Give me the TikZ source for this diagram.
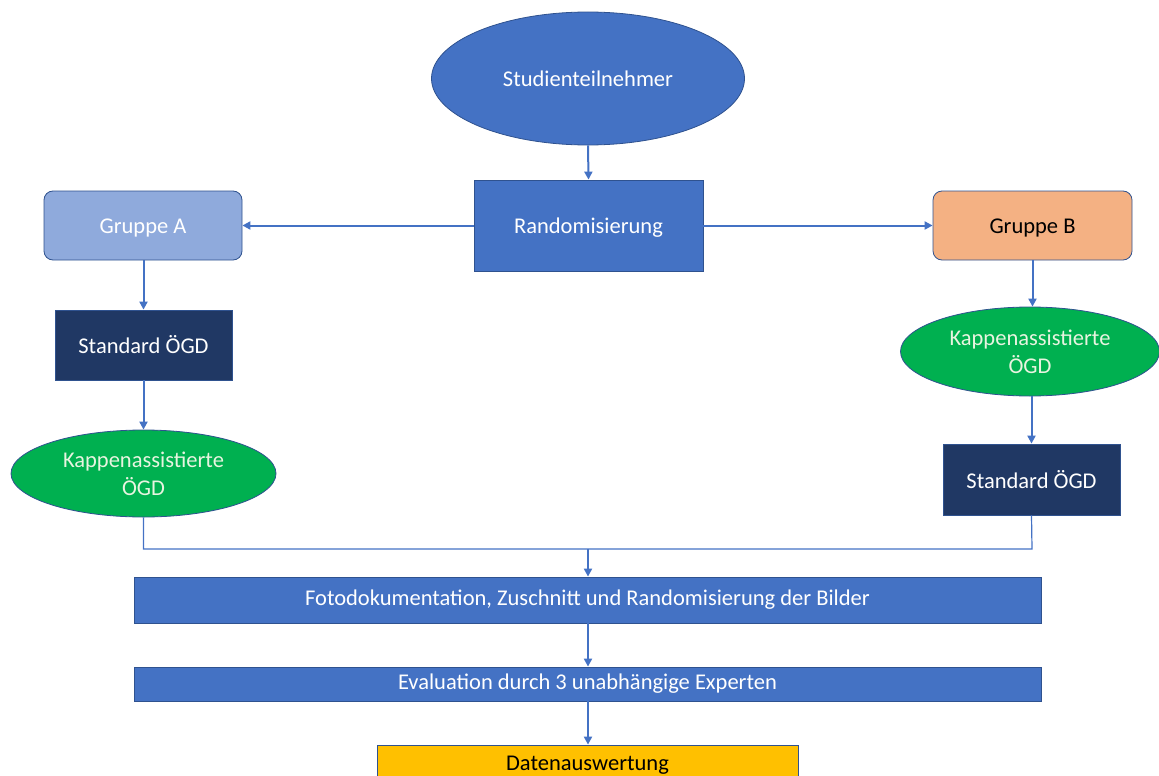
\documentclass[tikz,border=0pt]{standalone}
\usepackage{fontspec}
\setmainfont{Carlito}
\usetikzlibrary{shapes.geometric,arrows.meta}
\definecolor{mblue}{HTML}{4472C4}
\definecolor{bord}{HTML}{2F528F}
\definecolor{lblue}{HTML}{8FAADC}
\definecolor{peach}{HTML}{F4B183}
\definecolor{navy}{HTML}{203864}
\definecolor{grn}{HTML}{00B050}
\definecolor{gold}{HTML}{FFC000}
\definecolor{lgtxt}{HTML}{E8F4E0}
\tikzset{
  base/.style={inner sep=0pt, draw=bord, line width=0.8pt, font=\fontsize{22.5}{28}\selectfont, align=center},
  boxb/.style={base, rectangle, fill=mblue, text=white},
  ell/.style={base, ellipse},
  grp/.style={base, rectangle, rounded corners=9pt},
  arr/.style={draw=mblue, line width=2pt, -{Triangle[length=8pt,width=8pt]}},
  thin/.style={draw=mblue, line width=1.2pt}
}
\begin{document}
\begin{tikzpicture}[x=1pt,y=-1pt]
\useasboundingbox (0,0) rectangle (1159,776);
\clip (0,0) rectangle (1159,776);
\node[ell, fill=mblue, text=white, minimum width=313pt, minimum height=133pt] (stud) at (588,78.5) {Studienteilnehmer};
\node[boxb, minimum width=229pt, minimum height=91pt, text height=19pt] (rand) at (588.5,225.5) {Randomisierung};
\node[grp, fill=lblue, text=white, minimum width=198pt, minimum height=69pt, text height=19pt] (ga) at (143,225.5) {Gruppe A};
\node[grp, fill=peach, text=black, minimum width=199pt, minimum height=69pt, text height=19pt] (gb) at (1032.5,225.5) {Gruppe B};
\node[base, rectangle, fill=navy, text=white, minimum width=177pt, minimum height=70pt] (sa) at (143.5,345) {Standard ÖGD};
\node[ell, fill=grn, text=lgtxt, minimum width=265pt, minimum height=87pt] (ka) at (143.5,473.5) {Kappenassistierte\\ÖGD};
\node[ell, fill=grn, text=lgtxt, minimum width=259pt, minimum height=89pt] (kb) at (1030,351.5) {Kappenassistierte\\ÖGD};
\node[base, rectangle, fill=navy, text=white, minimum width=177pt, minimum height=71pt] (sb) at (1031.5,479.5) {Standard ÖGD};
\node[boxb, minimum width=907pt, minimum height=46pt] (foto) at (587.5,600) {Fotodokumentation, Zuschnitt und Randomisierung der Bilder};
\node[boxb, minimum width=907pt, minimum height=34pt] (eval) at (587.5,684) {Evaluation durch 3 unabhängige Experten};
\node[base, rectangle, fill=gold, text=black, minimum width=421pt, minimum height=46pt] (daten) at (587.5,768) {};
\node[font=\fontsize{22.5}{28}\selectfont, text=black, anchor=base] (dtxt) at (587.5,770) {Datenauswertung};
\coordinate (jl) at (143.5,549);
\coordinate (jr) at (1032,549);
\coordinate (jm) at (588,549);
\draw[arr] (stud.south) -- (rand.north);
\draw[arr] (rand.west) -- (ga.east);
\draw[arr] (rand.east) -- (gb.west);
\draw[arr] (ga.south -| sa.north) -- (sa.north);
\draw[arr] (sa.south) -- (ka.north);
\draw[arr] (gb.south) -- (gb.south |- kb.north);
\draw[arr] (kb.south -| sb.north) -- (sb.north);
\draw[thin] (ka.south) -- (jl) -- (jr) -- (sb.south);
\draw[arr] (jm) -- (foto.north -| jm);
\draw[arr] (foto.south -| jm) -- (eval.north -| jm);
\draw[arr] (eval.south -| jm) -- (daten.north -| jm);
\end{tikzpicture}
\end{document}
